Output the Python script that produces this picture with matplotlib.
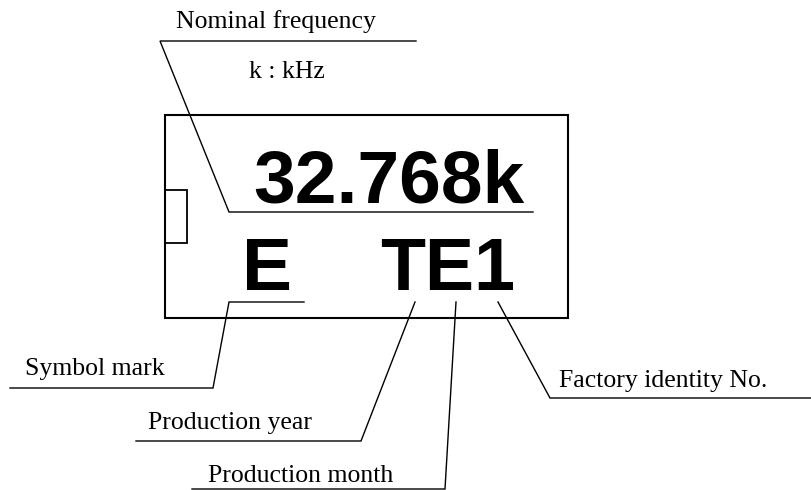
import matplotlib
matplotlib.use("Agg")
from matplotlib import pyplot as plt
from matplotlib.patches import Rectangle

# marking text on the part
marking_top = "32.768k"
marking_left = "E"
marking_right = "TE1"

# callout labels
labels = ["Nominal frequency", "Symbol mark", "Production year",
          "Production month", "Factory identity No."]
note = "k : kHz"

# layout (pixel coordinates, y down)
label_pos = [(276, 28), (95, 375), (230, 429), (301, 482), (663, 387)]
leaders = [
    [(416, 41), (160, 41), (229, 212), (533, 212)],
    [(304, 302), (229, 302), (213, 388), (10, 388)],
    [(415, 302), (361, 441), (136, 441)],
    [(456, 302), (445, 489), (192, 489)],
    [(498, 302), (550, 398), (811, 398)],
]

fig = plt.figure(figsize=(8.11, 4.9), dpi=100)
ax = fig.add_axes([0, 0, 1, 1])
ax.set_xlim(0, 811)
ax.set_ylim(490, 0)
ax.axis("off")

# part outline and notch
ax.add_patch(Rectangle((165, 115), 403, 203, fill=False, lw=1.5, ec="black"))
ax.add_patch(Rectangle((165, 190), 22, 53, fill=False, lw=1.3, ec="black"))

bold = dict(family="Liberation Sans", fontweight="bold", fontsize=54,
            va="baseline", ha="left", color="black")
ax.text(253, 202, marking_top, **bold)
ax.text(242, 290, marking_left, **bold)
ax.text(380, 290, marking_right, **{**bold, "fontsize": 53})

serif = dict(family="Liberation Serif", fontsize=18.5, va="baseline",
             ha="center", color="black")
for lab, (x, y) in zip(labels, label_pos):
    ax.text(x, y, lab, **serif)
ax.text(287, 78, note, **serif)

for pts in leaders:
    xs = [p[0] for p in pts]
    ys = [p[1] for p in pts]
    ax.plot(xs, ys, color="black", lw=1.0, solid_joinstyle="miter")

fig.savefig("out.png", dpi=100)
